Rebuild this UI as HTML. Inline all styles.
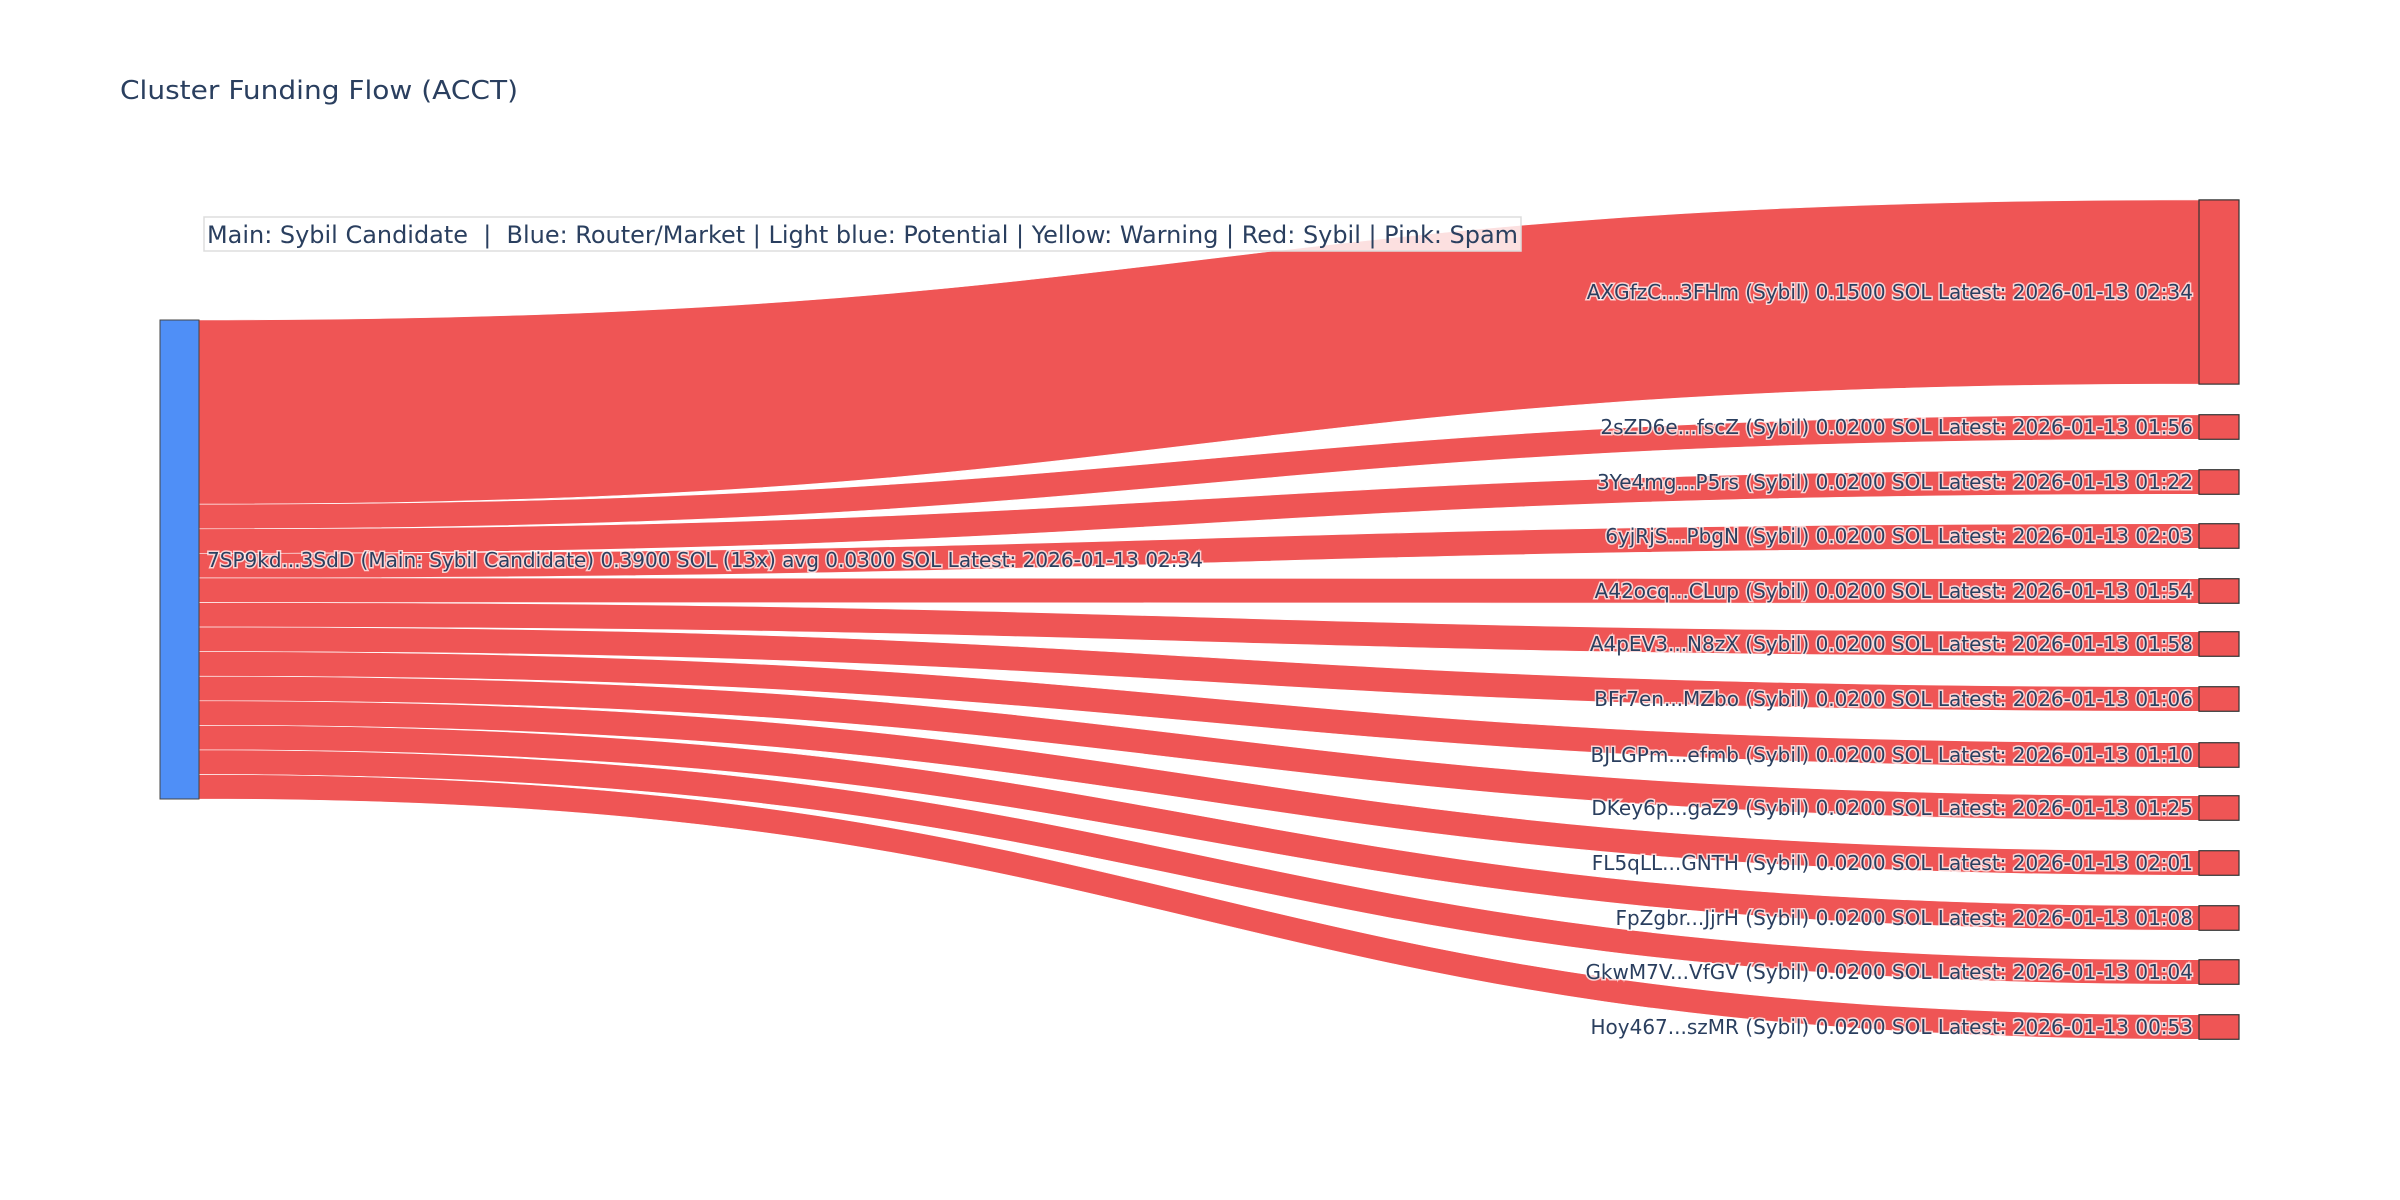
<!DOCTYPE html>
<html><head><meta charset="utf-8"><style>
html,body{margin:0;padding:0;background:#fff;}
svg{display:block;}
.lbl{font-family:"DejaVu Sans","Liberation Sans",sans-serif;font-size:20px;fill:#2a3f5f;paint-order:stroke;stroke:rgba(255,255,255,0.75);stroke-width:3px;}
</style></head><body>
<svg width="2400" height="1200" viewBox="0 0 2400 1200" xmlns="http://www.w3.org/2000/svg">
<rect width="2400" height="1200" fill="#fff"/>
<text x="120" y="99" font-family="DejaVu Sans, Liberation Sans, sans-serif" font-size="26" fill="#2a3f5f" textLength="398" lengthAdjust="spacingAndGlyphs">Cluster Funding Flow (ACCT)</text>
<g fill="#ef5555" stroke="#fff" stroke-width="0.6" id="links"></g>
<rect x="160" y="320" width="39" height="479" fill="#4f8ff7" stroke="#444" stroke-width="1"/>
<g id="nodes" fill="#ef5555" stroke="#333" stroke-width="1.2"></g>
<rect x="204" y="217" width="1317" height="34" fill="rgba(255,255,255,0.82)" stroke="#ddd" stroke-width="1.5"/>
<text x="207" y="243" font-family="DejaVu Sans, Liberation Sans, sans-serif" font-size="24" fill="#2a3f5f" textLength="1311" lengthAdjust="spacingAndGlyphs" xml:space="preserve">Main: Sybil Candidate  |  Blue: Router/Market | Light blue: Potential | Yellow: Warning | Red: Sybil | Pink: Spam</text>
<text class="lbl" x="207" y="567" textLength="996" lengthAdjust="spacingAndGlyphs">7SP9kd...3SdD (Main: Sybil Candidate) 0.3900 SOL (13x) avg 0.0300 SOL Latest: 2026-01-13 02:34</text>
<g id="labels"></g>
</svg>
<script>
var NS="http://www.w3.org/2000/svg";
var names=[["AXGfzC...3FHm","0.1500","02:34"],["2sZD6e...fscZ","0.0200","01:56"],["3Ye4mg...P5rs","0.0200","01:22"],["6yjRjS...PbgN","0.0200","02:03"],["A42ocq...CLup","0.0200","01:54"],["A4pEV3...N8zX","0.0200","01:58"],["BFr7en...MZbo","0.0200","01:06"],["BJLGPm...efmb","0.0200","01:10"],["DKey6p...gaZ9","0.0200","01:25"],["FL5qLL...GNTH","0.0200","02:01"],["FpZgbr...JjrH","0.0200","01:08"],["GkwM7V...VfGV","0.0200","01:04"],["Hoy467...szMR","0.0200","00:53"]];
var centers=[292,427,482,536,591,644,699,755,808,863,918,972,1027];
var links=document.getElementById("links"),nodes=document.getElementById("nodes"),labels=document.getElementById("labels");
var s=320,unit=479/0.39;
for(var i=0;i<13;i++){
 var v=parseFloat(names[i][1]),h=v*unit;
 var s0=s,s1=s+h;s=s1;
 var t0=centers[i]-h/2,t1=centers[i]+h/2;
 var p=document.createElementNS(NS,"path");
 p.setAttribute("d","M199,"+s0+" C1199,"+s0+" 1199,"+t0+" 2199,"+t0+" L2199,"+t1+" C1199,"+t1+" 1199,"+s1+" 199,"+s1+" Z");
 links.appendChild(p);
 var r=document.createElementNS(NS,"rect");
 r.setAttribute("x",2199);r.setAttribute("y",t0);r.setAttribute("width",40);r.setAttribute("height",h);
 nodes.appendChild(r);
 var t=document.createElementNS(NS,"text");
 t.setAttribute("class","lbl");t.setAttribute("x",2193);t.setAttribute("y",centers[i]+7);t.setAttribute("text-anchor","end");
 t.textContent=names[i][0]+" (Sybil) "+names[i][1]+" SOL Latest: 2026-01-13 "+names[i][2];
 labels.appendChild(t);
}
</script>
</body></html>
